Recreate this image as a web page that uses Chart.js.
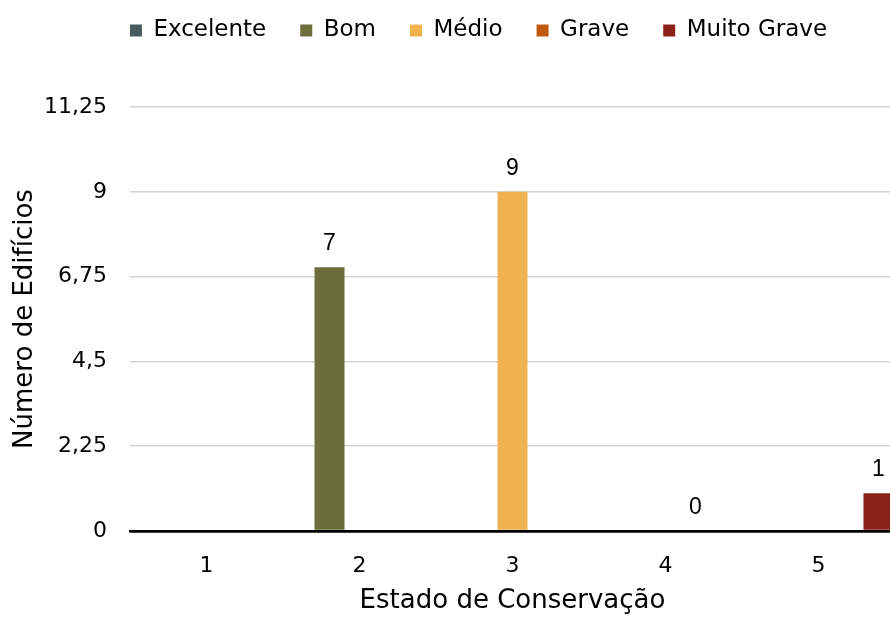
<!DOCTYPE html>
<html>
<head>
<meta charset="utf-8">
<script src="https://cdn.jsdelivr.net/npm/chart.js@4"></script>
<style>
  html, body { margin: 0; padding: 0; background: #fff; overflow: hidden; }
  #wrap { width: 956px; height: 617px; }
</style>
</head>
<body>
<div id="wrap"><canvas id="estadoCanvas"></canvas></div>
<script>
// categories and values
const categorias = ['1', '2', '3', '4', '5'];
const excelente = [null, null, null, null, null];
const bom = [null, 7, null, null, null];
const medio = [null, null, 9, null, null];
const grave = [null, null, null, 0, null];
const muitoGrave = [null, null, null, null, 1];
const yTicks = [0, 2.25, 4.5, 6.75, 9, 11.25];

const fonte = "'DejaVu Sans', sans-serif";

// draws the value above each bar (like excel data labels)
const rotulos = {
    id: 'rotulos',
    afterDatasetsDraw(chart) {
        const ctx = chart.ctx;
        ctx.save();
        ctx.font = "23px 'Liberation Sans', Arial, sans-serif";
        ctx.fillStyle = '#000';
        ctx.textAlign = 'center';
        ctx.textBaseline = 'alphabetic';
        chart.data.datasets.forEach((ds, i) => {
            const meta = chart.getDatasetMeta(i);
            meta.data.forEach((bar, j) => {
                const v = ds.data[j];
                if (v === null || v === undefined) return;
                ctx.fillText(String(v), bar.x, bar.y - 17);
            });
        });
        ctx.restore();
    }
};

// legend block has a fixed height, and its items are moved to where excel put them
const legendaAltura = {
    id: 'legendaAltura',
    beforeInit(chart) {
        const lg = chart.legend;
        if (!lg) return;
        const fit = lg.fit;
        lg.fit = function () {
            fit.call(this);
            this.height = 107;
        };
        const draw = lg.draw;
        lg.draw = function () {
            chart.ctx.save();
            chart.ctx.translate(31, -15);
            draw.call(this);
            chart.ctx.restore();
        };
    }
};

const ctx = document.getElementById('estadoCanvas').getContext('2d');

let grafico = new Chart(ctx, {
    type: 'bar',
    data: {
        labels: categorias,
        datasets: [
            { label: 'Excelente', data: excelente, backgroundColor: '#475b5f' },
            { label: 'Bom', data: bom, backgroundColor: '#6b6e3a' },
            { label: 'Médio', data: medio, backgroundColor: '#f0b24e' },
            { label: 'Grave', data: grave, backgroundColor: '#c05a0c' },
            { label: 'Muito Grave', data: muitoGrave, backgroundColor: '#8b221a' }
        ]
    },
    options: {
        responsive: true,
        maintainAspectRatio: false,
        animation: false,
        datasets: {
            bar: { barPercentage: 1, categoryPercentage: 0.98 }
        },
        layout: {
            padding: { left: 0, right: 61, top: 0, bottom: 0 }
        },
        plugins: {
            legend: {
                position: 'top',
                labels: {
                    boxWidth: 12,
                    boxHeight: 12,
                    padding: 34,
                    color: '#000',
                    font: { family: fonte, size: 23 }
                }
            },
            tooltip: { enabled: false }
        },
        scales: {
            x: {
                grid: { display: false },
                border: { color: '#000', width: 2.5 },
                ticks: { color: '#000', padding: 14, font: { family: fonte, size: 22 } },
                title: {
                    display: true,
                    text: 'Estado de Conservação',
                    color: '#000',
                    padding: { top: 2, bottom: 0 },
                    font: { family: fonte, size: 26 }
                },
                afterFit(scale) { scale.height = 86; }
            },
            y: {
                min: 0,
                max: 11.25,
                afterBuildTicks(scale) {
                    scale.ticks = yTicks.map(v => ({ value: v }));
                },
                grid: {
                    drawTicks: false,
                    color: c => c.tick && c.tick.value === 0 ? '#000' : '#d4d4d4',
                    lineWidth: c => c.tick && c.tick.value === 0 ? 2.5 : 1.5
                },
                border: { display: false },
                ticks: {
                    color: '#000',
                    padding: 23,
                    font: { family: fonte, size: 22 },
                    callback: v => String(Math.round(v * 100) / 100).replace('.', ',')
                },
                title: {
                    display: true,
                    text: 'Número de Edifícios',
                    color: '#000',
                    padding: { top: 10, bottom: 0 },
                    font: { family: fonte, size: 26 }
                },
                afterFit(scale) { scale.width = 130; }
            }
        }
    },
    plugins: [rotulos, legendaAltura]
});
</script>
</body>
</html>
